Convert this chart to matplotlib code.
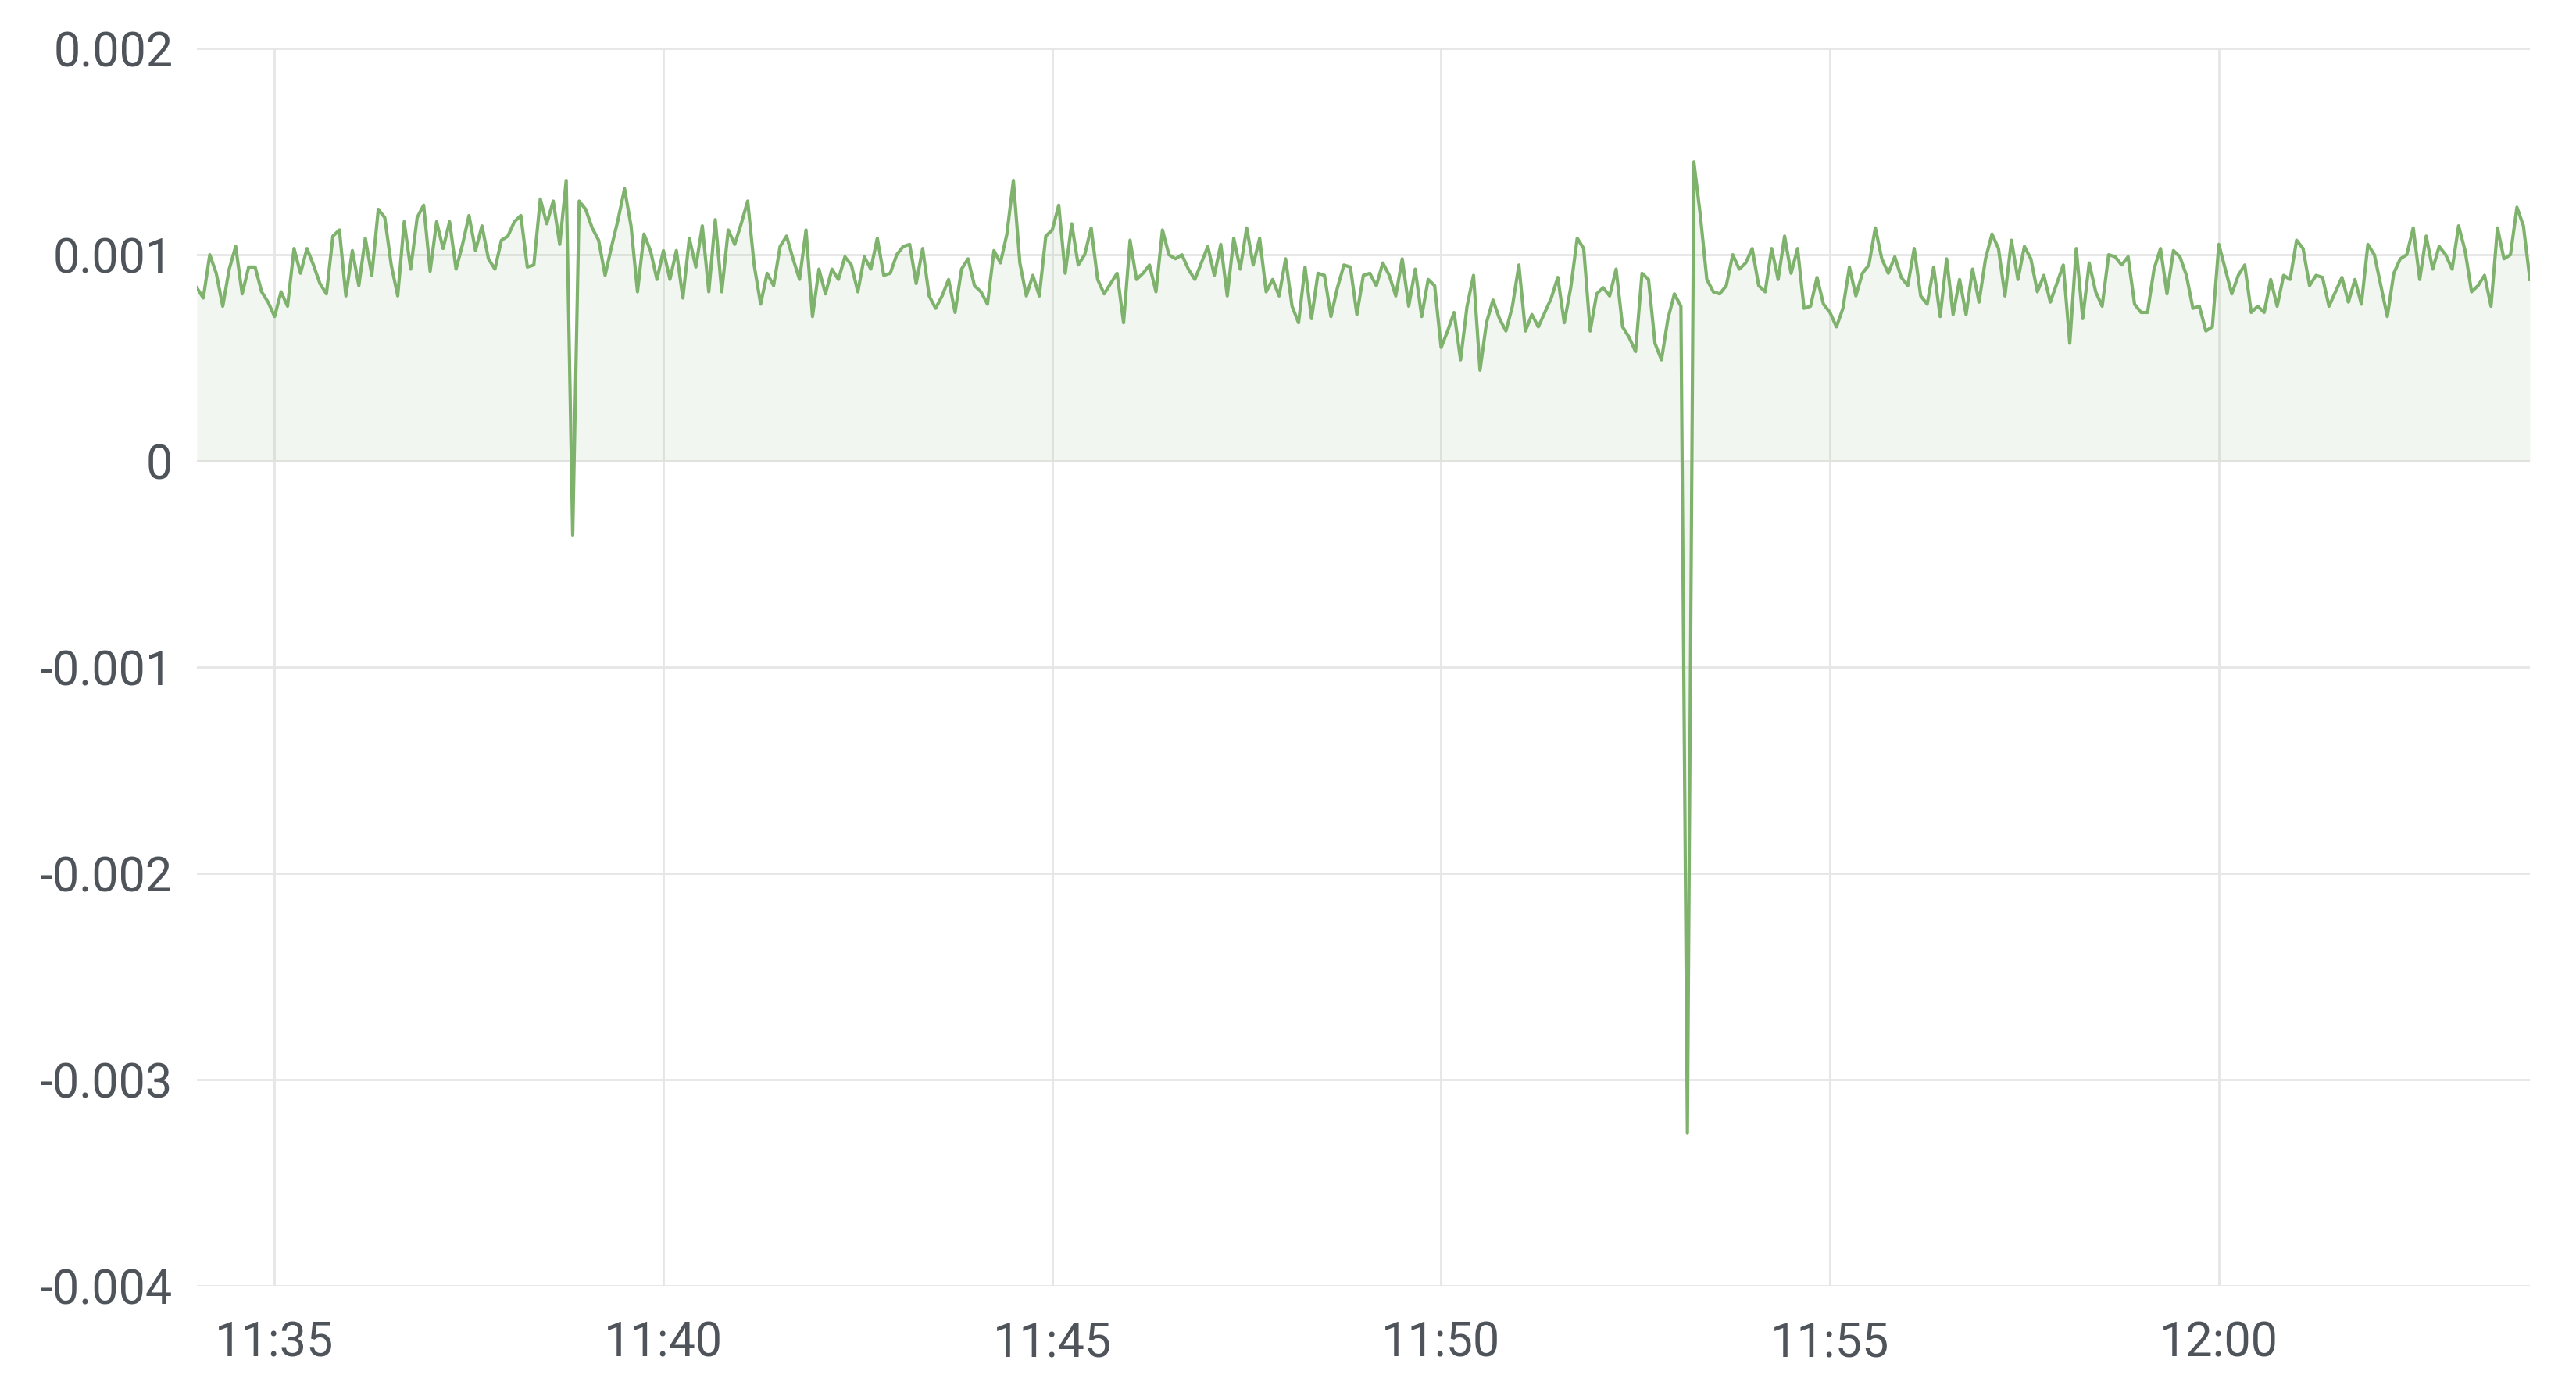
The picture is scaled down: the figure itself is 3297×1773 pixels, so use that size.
import matplotlib
matplotlib.use("Agg")
import matplotlib.pyplot as plt
import matplotlib.dates as mdates
import pandas as pd
import numpy as np

# ---- data (values in units of 1e-3), one sample every 5 s from 11:34:00 to 12:04:00
start_time = "2020-01-01 11:34:00"
end_time = "2020-01-01 12:04:00"
step = "5s"
values_milli = [
    0.84,0.79,1.00,0.91,0.75,0.93,1.04,0.81,0.94,0.94,
    0.82,0.77,0.70,0.82,0.75,1.03,0.91,1.03,0.95,0.86,
    0.81,1.09,1.12,0.80,1.02,0.85,1.08,0.90,1.22,1.18,
    0.95,0.80,1.16,0.93,1.18,1.24,0.92,1.16,1.03,1.16,
    0.93,1.05,1.19,1.02,1.14,0.98,0.93,1.07,1.09,1.16,
    1.19,0.94,0.95,1.27,1.15,1.26,1.05,1.36,-0.36,1.26,
    1.22,1.13,1.07,0.90,1.04,1.17,1.32,1.14,0.82,1.10,
    1.02,0.88,1.02,0.88,1.02,0.79,1.08,0.94,1.14,0.82,
    1.17,0.82,1.12,1.05,1.15,1.26,0.95,0.76,0.91,0.85,
    1.04,1.09,0.98,0.88,1.12,0.70,0.93,0.81,0.93,0.88,
    0.99,0.95,0.82,0.99,0.93,1.08,0.90,0.91,1.00,1.04,
    1.05,0.86,1.03,0.80,0.74,0.80,0.88,0.72,0.93,0.98,
    0.85,0.82,0.76,1.02,0.96,1.10,1.36,0.96,0.80,0.90,
    0.80,1.09,1.12,1.24,0.91,1.15,0.95,1.00,1.13,0.88,
    0.81,0.86,0.91,0.67,1.07,0.88,0.91,0.95,0.82,1.12,
    1.00,0.98,1.00,0.93,0.88,0.96,1.04,0.90,1.05,0.80,
    1.08,0.93,1.13,0.95,1.08,0.82,0.88,0.80,0.98,0.75,
    0.67,0.94,0.69,0.91,0.90,0.70,0.84,0.95,0.94,0.71,
    0.90,0.91,0.85,0.96,0.90,0.80,0.98,0.75,0.93,0.70,
    0.88,0.85,0.55,0.63,0.72,0.49,0.75,0.90,0.44,0.67,
    0.78,0.69,0.63,0.75,0.95,0.63,0.71,0.65,0.72,0.79,
    0.89,0.67,0.84,1.08,1.03,0.63,0.81,0.84,0.80,0.93,
    0.65,0.60,0.53,0.91,0.88,0.57,0.49,0.69,0.81,0.75,
    -3.26,1.45,1.19,0.88,0.82,0.81,0.85,1.00,0.93,0.96,
    1.03,0.85,0.82,1.03,0.88,1.09,0.91,1.03,0.74,0.75,
    0.89,0.76,0.72,0.65,0.74,0.94,0.80,0.91,0.95,1.13,
    0.98,0.91,0.99,0.89,0.85,1.03,0.80,0.76,0.94,0.70,
    0.98,0.71,0.88,0.71,0.93,0.77,0.98,1.10,1.03,0.80,
    1.07,0.88,1.04,0.98,0.82,0.90,0.77,0.86,0.95,0.57,
    1.03,0.69,0.96,0.82,0.75,1.00,0.99,0.95,0.99,0.76,
    0.72,0.72,0.93,1.03,0.81,1.02,0.99,0.90,0.74,0.75,
    0.63,0.65,1.05,0.93,0.81,0.90,0.95,0.72,0.75,0.72,
    0.88,0.75,0.90,0.88,1.07,1.03,0.85,0.90,0.89,0.75,
    0.82,0.89,0.77,0.88,0.76,1.05,1.00,0.85,0.70,0.91,
    0.98,1.00,1.13,0.88,1.09,0.93,1.04,1.00,0.93,1.14,
    1.02,0.82,0.85,0.90,0.75,1.13,0.98,1.00,1.23,1.14,
    0.88,
]
y_ticks = [-0.004, -0.003, -0.002, -0.001, 0, 0.001, 0.002]
y_tick_labels = ["-0.004", "-0.003", "-0.002", "-0.001", "0", "0.001", "0.002"]

times = pd.date_range(start_time, end_time, freq=step)
values = np.array(values_milli) * 1e-3
n = min(len(times), len(values))
times = times[:n]
values = values[:n]

line_color = "#7eb26d"
grid_color = "#e6e6e6"
text_color = "#4f545b"

plt.rcParams["font.family"] = ["Roboto", "DejaVu Sans"]

fig = plt.figure(figsize=(32.97, 17.73), dpi=100)
ax = fig.add_axes([0.0764, 0.0716, 0.9057, 0.8934])

ax.fill_between(times, values, 0, color=line_color, alpha=0.10, linewidth=0)
ax.plot(times, values, color=line_color, linewidth=3.0)

ax.set_xlim(pd.Timestamp(start_time), pd.Timestamp(end_time))
ax.set_ylim(-0.004, 0.002)
ax.set_yticks(y_ticks)
ax.set_yticklabels(y_tick_labels)

ax.xaxis.set_major_locator(mdates.MinuteLocator(byminute=range(0, 60, 5)))
ax.xaxis.set_major_formatter(mdates.DateFormatter("%H:%M"))

for s in ax.spines.values():
    s.set_visible(False)

ax.grid(True, color=grid_color, linewidth=2.0)
ax.set_axisbelow(True)
ax.tick_params(axis="both", length=0, labelsize=44, colors=text_color)
ax.tick_params(axis="y", pad=22)
ax.tick_params(axis="x", pad=32)

fig.savefig("out.png", dpi=100, facecolor="white")
